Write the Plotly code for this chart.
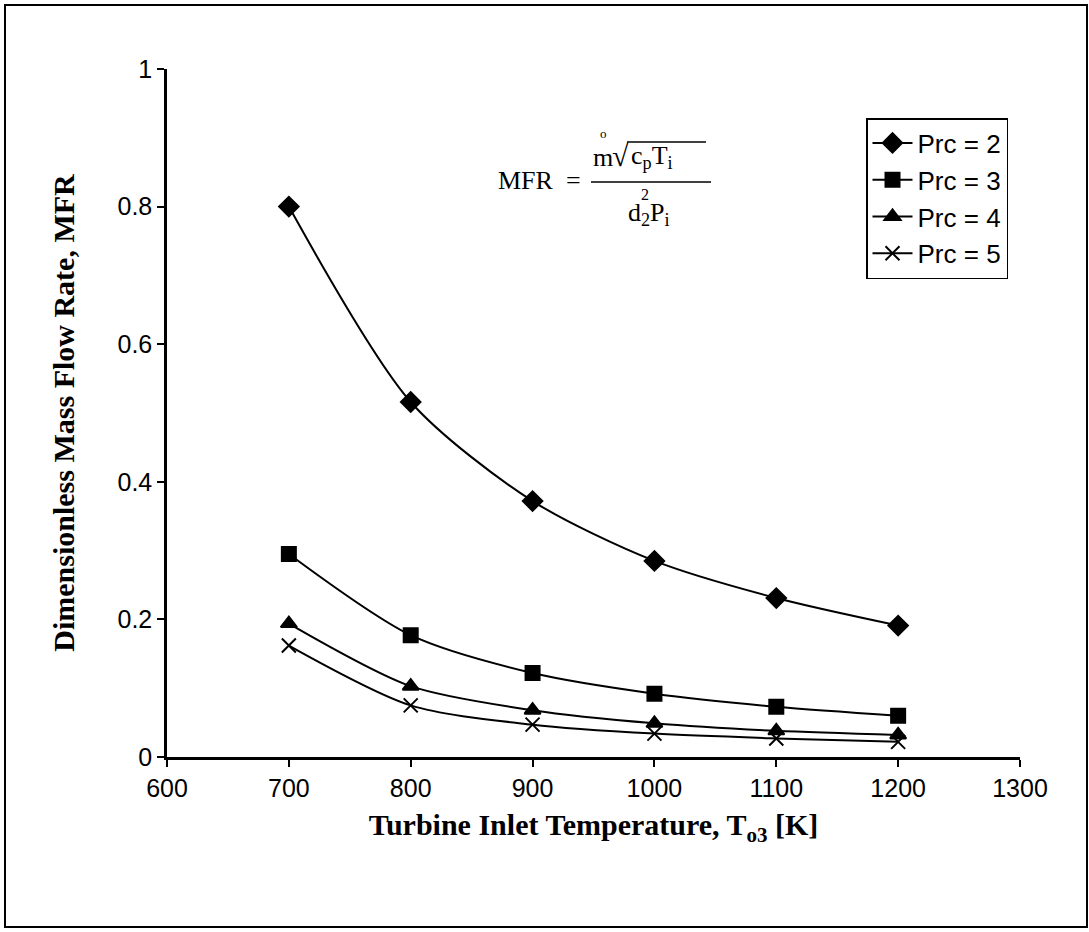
import plotly.graph_objects as go

# ---- data ----
temps = [700, 800, 900, 1000, 1100, 1200]
prc2 = [0.800, 0.516, 0.372, 0.285, 0.231, 0.191]
prc3 = [0.295, 0.177, 0.122, 0.092, 0.073, 0.060]
prc4 = [0.194, 0.103, 0.068, 0.049, 0.038, 0.032]
prc5 = [0.162, 0.075, 0.047, 0.034, 0.027, 0.022]
series_names = ["Prc = 2", "Prc = 3", "Prc = 4", "Prc = 5"]
x_ticks = [600, 700, 800, 900, 1000, 1100, 1200, 1300]
y_ticks = [0, 0.2, 0.4, 0.6, 0.8, 1]
y_tick_labels = ["0", "0.2", "0.4", "0.6", "0.8", "1"]

W, H = 1089, 932
L, R, T, B = 167, 69, 69, 175
PW, PH = W - L - R, H - T - B


def px(x):
    return (x - L) / PW


def py(y):
    return (H - B - y) / PH


symbols = ["diamond", "square", "triangle-up", "x-thin"]
sizes = [15, 14, 14, 14]
fig = go.Figure()
for name, vals, sym, sz in zip(series_names, [prc2, prc3, prc4, prc5], symbols, sizes):
    fig.add_trace(go.Scatter(
        x=temps, y=vals, name=name, mode="lines+markers",
        line=dict(color="black", width=2, shape="spline", smoothing=0.8),
        marker=dict(symbol=sym, size=sz, color="black",
                    line=dict(color="black", width=2)),
    ))

serif = "Liberation Serif"
sans = "Liberation Sans"

fig.update_layout(
    width=W, height=H,
    margin=dict(l=L, r=R, t=T, b=B),
    paper_bgcolor="white", plot_bgcolor="white",
    showlegend=True,
    legend=dict(
        x=px(866), y=py(118), xanchor="left", yanchor="top",
        bordercolor="black", borderwidth=1.5, bgcolor="white",
        font=dict(family=sans, size=26, color="black"),
        tracegroupgap=0, itemwidth=40,
    ),
    xaxis=dict(
        range=[600, 1300], tickvals=x_ticks, ticks="outside", ticklen=7,
        tickwidth=2, tickcolor="black", showline=True, linecolor="black",
        linewidth=2.5, showgrid=False, zeroline=False,
        tickfont=dict(family=sans, size=25, color="black"),
        title=dict(text="<b>Turbine Inlet Temperature, T<sub>o3</sub> [K]</b>",
                   font=dict(family=serif, size=30, color="black"),
                   standoff=14),
    ),
    yaxis=dict(
        range=[0, 1], tickvals=y_ticks, ticktext=y_tick_labels,
        ticks="outside", ticklen=7, tickwidth=2, tickcolor="black",
        showline=True, linecolor="black", linewidth=2.5, showgrid=False,
        zeroline=False,
        tickfont=dict(family=sans, size=25, color="black"),
        title=dict(text="<b>Dimensionless Mass Flow Rate, MFR</b>",
                   font=dict(family=serif, size=30, color="black"),
                   standoff=34),
    ),
)

# outer frame
fig.add_shape(type="rect", xref="paper", yref="paper",
              x0=px(5), x1=px(1087), y0=py(927), y1=py(5),
              line=dict(color="black", width=2))

# formula
FS = 26
ann = []
ann.append(dict(text="MFR  =", x=px(583), y=py(181), xanchor="right",
                yanchor="middle", font=dict(family=serif, size=FS)))
ann.append(dict(text="m", x=px(603), y=py(157), xanchor="center",
                yanchor="middle", font=dict(family=serif, size=FS)))
ann.append(dict(text="o", x=px(603), y=py(133), xanchor="center",
                yanchor="middle", font=dict(family=serif, size=13)))
ann.append(dict(text="√", x=px(620), y=py(155), xanchor="center",
                yanchor="middle", font=dict(family=serif, size=30)))
ann.append(dict(text="c<sub>p</sub>T<sub>i</sub>", x=px(629), y=py(157),
                xanchor="left", yanchor="middle",
                font=dict(family=serif, size=FS)))
ann.append(dict(text="d<sub>2</sub>P<sub>i</sub>", x=px(626), y=py(214),
                xanchor="left", yanchor="middle",
                font=dict(family=serif, size=FS)))
ann.append(dict(text="2", x=px(645), y=py(194), xanchor="center",
                yanchor="middle", font=dict(family=serif, size=16)))
for a in ann:
    a.update(xref="paper", yref="paper", showarrow=False)
    a["font"]["color"] = "black"
fig.update_layout(annotations=ann)

fig.add_shape(type="line", xref="paper", yref="paper",
              x0=px(591), x1=px(711), y0=py(182), y1=py(182),
              line=dict(color="black", width=1.5))
fig.add_shape(type="line", xref="paper", yref="paper",
              x0=px(627), x1=px(706), y0=py(142), y1=py(142),
              line=dict(color="black", width=1.5))

fig.write_html("out.html")
